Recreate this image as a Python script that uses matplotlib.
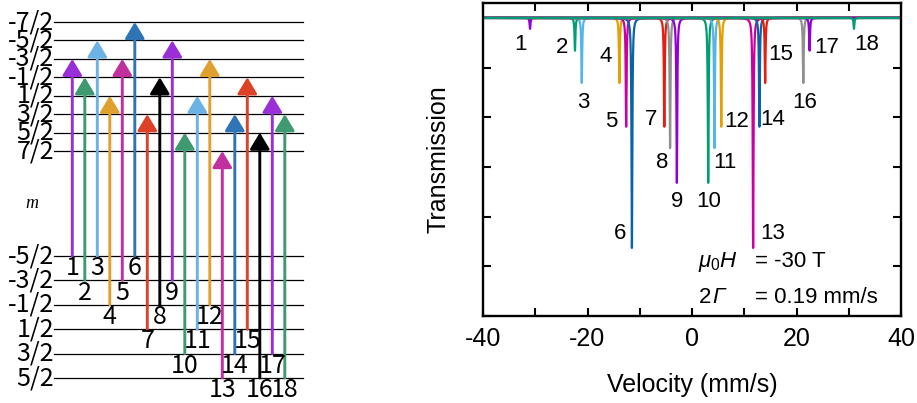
import numpy as np
import matplotlib
matplotlib.use('Agg')
import matplotlib.pyplot as plt
from matplotlib.ticker import MultipleLocator, NullFormatter

plt.rcParams['font.family'] = ['Liberation Sans', 'DejaVu Sans']
plt.rcParams['mathtext.fontset'] = 'custom'
plt.rcParams['mathtext.rm'] = 'Liberation Sans'
plt.rcParams['mathtext.it'] = 'Liberation Sans:italic'
plt.rcParams['axes.unicode_minus'] = False

# Datos de las 18 lineas
lineas = list(range(1, 19))
m_exc = [-1.5, -0.5, -2.5, 0.5, -1.5, -3.5, 1.5, -0.5, -2.5,
         2.5, 0.5, -1.5, 3.5, 1.5, -0.5, 2.5, 0.5, 1.5]
m_fund = [-2.5, -1.5, -2.5, -0.5, -1.5, -2.5, 0.5, -0.5, -1.5,
          1.5, 0.5, -0.5, 2.5, 1.5, 0.5, 2.5, 1.5, 2.5]
velocidad = [-31.0, -22.4, -21.1, -13.9, -12.6, -11.5, -5.3, -4.2, -2.9,
             3.1, 4.3, 5.6, 11.7, 12.9, 14.0, 21.3, 22.5, 31.0]
profundidad = [0.022, 0.066, 0.131, 0.131, 0.219, 0.463, 0.219, 0.262, 0.332,
               0.332, 0.262, 0.219, 0.463, 0.219, 0.131, 0.131, 0.066, 0.022]
ancho = 0.19  # 2Gamma (mm/s)

niveles_exc = [-3.5, -2.5, -1.5, -0.5, 0.5, 1.5, 2.5, 3.5]
etiq_exc = ['-7/2', '-5/2', '-3/2', '-1/2', '1/2', '3/2', '5/2', '7/2']
niveles_fund = [-2.5, -1.5, -0.5, 0.5, 1.5, 2.5]
etiq_fund = ['-5/2', '-3/2', '-1/2', '1/2', '3/2', '5/2']

# Posiciones de las etiquetas en el espectro
lab_x = [-32.9, -24.9, -20.9, -16.6, -15.4, -13.8, -7.9, -5.8, -2.9,
         3.1, 6.3, 8.6, 15.5, 15.5, 16.9, 21.6, 25.8, 33.4]
lab_y = [0.946, 0.940, 0.829, 0.922, 0.791, 0.567, 0.795, 0.708, 0.630,
         0.630, 0.708, 0.791, 0.567, 0.795, 0.926, 0.829, 0.940, 0.946]

col_izq = ['#9a2fd8', '#3f9a72', '#6cb2e4', '#e0a030', '#c0309f', '#2f74b5', '#dd4126', '#000000']
col_der = ['#9400d3', '#009e73', '#56b4e9', '#e69f00', '#cc00a0', '#0a62a8', '#e51e10', '#909090']

fig = plt.figure(figsize=(9.17, 4.03), dpi=100)

# ---------- Diagrama de niveles (coordenadas en pixeles) ----------
axl = fig.add_axes([0, 0, 310 / 917, 1])
axl.set_xlim(0, 310)
axl.set_ylim(403, 0)
axl.axis('off')

def y_exc(m):
    return 22 + 18.43 * (m + 3.5)

def y_fund(m):
    return 256 + 24.4 * (m + 2.5)

fuente_izq = ['Noto Sans CJK JP', 'DejaVu Sans']
for m, t in zip(niveles_exc, etiq_exc):
    axl.plot([54, 303], [y_exc(m), y_exc(m)], color='black', lw=0.9, zorder=1)
    axl.text(54, y_exc(m), t, ha='right', va='center', fontsize=18, family=fuente_izq)
for m, t in zip(niveles_fund, etiq_fund):
    axl.plot([54, 303], [y_fund(m), y_fund(m)], color='black', lw=0.9, zorder=1)
    axl.text(54, y_fund(m), t, ha='right', va='center', fontsize=18, family=fuente_izq)

axl.text(32, 204, 'm', ha='center', va='center', fontsize=13, style='italic',
         family=['Liberation Serif'])

for i, me, mg in zip(lineas, m_exc, m_fund):
    x = 72.3 + 12.5 * (i - 1)
    c = col_izq[(i - 1) % 8]
    axl.annotate('', xy=(x, y_exc(me)), xytext=(x, y_fund(mg)),
                 arrowprops=dict(arrowstyle='-|>,head_length=1.0,head_width=0.6',
                                 lw=2.1, color=c, shrinkA=0, shrinkB=0,
                                 mutation_scale=10), zorder=3)
    axl.text(x, y_fund(mg) + 12.2, str(i), ha='center', va='center',
             fontsize=18, family=fuente_izq, zorder=4)

# ---------- Espectro Mossbauer ----------
ax = fig.add_axes([483 / 917, (403 - 316) / 403, 418 / 917, 313 / 403])
v = np.sort(np.concatenate([np.linspace(-40, 40, 32001), velocidad]))
for i, v0, d in zip(lineas, velocidad, profundidad):
    c = col_der[(i - 1) % 8]
    t = 1 - d / (1 + ((v - v0) / (ancho / 2)) ** 2)
    ax.plot(v, t, color=c, lw=1.6)
    ax.text(lab_x[i - 1], lab_y[i - 1], str(i), ha='center', va='center', fontsize=16)

ax.set_xlim(-40, 40)
ax.set_ylim(0.4, 1.03)
ax.xaxis.set_major_locator(MultipleLocator(20))
ax.xaxis.set_minor_locator(MultipleLocator(10))
ax.yaxis.set_major_locator(MultipleLocator(0.1))
ax.yaxis.set_major_formatter(NullFormatter())
ax.tick_params(which='both', direction='in', top=True, right=True, length=6, width=1.5)
ax.tick_params(axis='x', labelsize=18, pad=8)
for s in ax.spines.values():
    s.set_linewidth(1.7)
ax.set_xlabel('Velocity (mm/s)', fontsize=18, labelpad=16)
ax.set_ylabel('Transmission', fontsize=18, labelpad=20)

ax.text(1.15, 0.509, r'$\mu_0H$', ha='left', va='center', fontsize=16)
ax.text(12.06, 0.509, '= -30 T', ha='left', va='center', fontsize=16)
ax.text(1.4, 0.437, '2', ha='left', va='center', fontsize=16)
ax.text(3.8, 0.437, 'Γ', ha='left', va='center', fontsize=16, style='italic')
ax.text(12.06, 0.437, '= 0.19 mm/s', ha='left', va='center', fontsize=16)

fig.savefig('out.png', dpi=100)
